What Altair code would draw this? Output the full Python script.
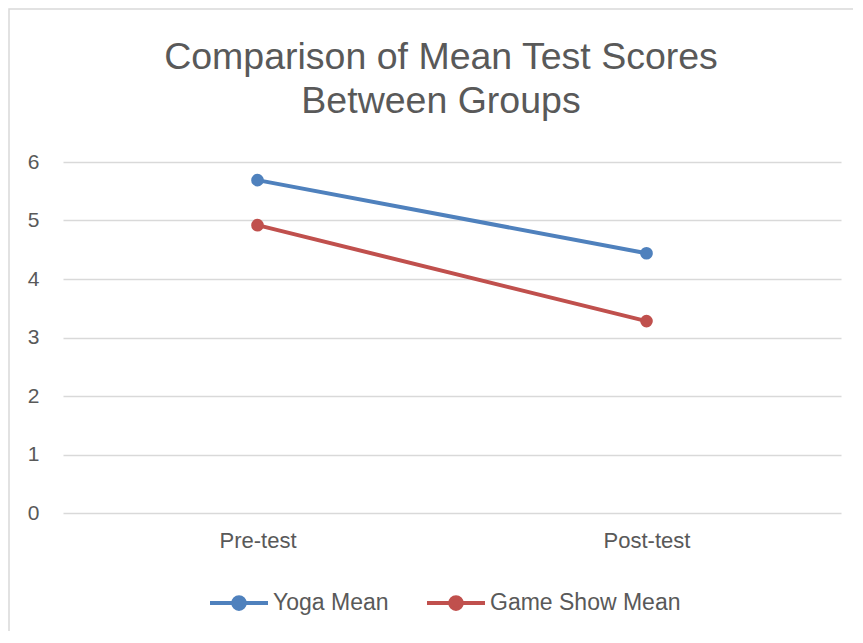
import altair as alt
import pandas as pd

tests = ["Pre-test", "Post-test"]
series = ["Yoga Mean", "Game Show Mean"]
yoga_mean = [5.69, 4.44]
game_show_mean = [4.92, 3.28]
colors = ["#4F81BD", "#C0504D"]

rows = []
for t, v in zip(tests, yoga_mean):
    rows.append({"Test": t, "Group": series[0], "Score": v})
for t, v in zip(tests, game_show_mean):
    rows.append({"Test": t, "Group": series[1], "Score": v})
df = pd.DataFrame(rows)

FONT = "Liberation Sans"
GRAY = "#595959"

legend_symbol = ("M -1 0 L 1 0 M 0.2 0 A 0.2 0.2 0 1 1 -0.2 0 "
                 "A 0.2 0.2 0 1 1 0.2 0 Z")

x = alt.X("Test:N", sort=tests,
          scale=alt.Scale(paddingInner=0, paddingOuter=0),
          axis=alt.Axis(title=None, labelAngle=0, ticks=False, domain=False,
                        labelFontSize=22, labelColor=GRAY, labelFont=FONT,
                        labelPadding=17, grid=False))
y = alt.Y("Score:Q", scale=alt.Scale(domain=[0, 6], nice=False),
          axis=alt.Axis(title=None, values=[0, 1, 2, 3, 4, 5, 6], ticks=False,
                        domain=False, labelFontSize=21, labelColor=GRAY,
                        labelFont=FONT, labelPadding=24, grid=True,
                        gridColor="#D9D9D9", gridWidth=1.5))
color = alt.Color("Group:N", sort=series,
                  scale=alt.Scale(domain=series, range=colors),
                  legend=alt.Legend(title=None, orient="none", direction="horizontal",
                                    legendX=145, legendY=410,
                                    symbolType=legend_symbol, symbolSize=3364,
                                    symbolStrokeWidth=4, symbolOpacity=1,
                                    labelFontSize=23, labelColor=GRAY, labelFont=FONT,
                                    labelOffset=3, columnPadding=30, labelLimit=0))

base = alt.Chart(df).encode(x=x, y=y, color=color, detail="Group:N")
lines = base.mark_line(strokeWidth=4, strokeCap="round")
points = base.mark_point(filled=True, size=160, opacity=1)

frame_df = pd.DataFrame({"k": [0]})
frame = alt.Chart(frame_df).mark_rect(fill="transparent", stroke="#D9D9D9",
                                      strokeWidth=1.5).encode(
    x=alt.value(-54), x2=alt.value(900), y=alt.value(-153), y2=alt.value(900))

chart = alt.layer(frame, lines, points).properties(
    width=778, height=351,
    title=alt.Title(["Comparison of Mean Test Scores", "Between Groups"],
                    fontSize=37.5, font=FONT, color=GRAY, fontWeight="normal",
                    lineHeight=44, anchor="middle", frame="group", dx=-11,
                    offset=-112),
    autosize=alt.AutoSizeParams(type="none"),
    padding={"left": 55, "top": 154, "right": 12, "bottom": 118},
).configure(background="white").configure_view(stroke=None, strokeWidth=0)

chart.save("out.html", embed_options={"renderer": "svg", "actions": False})
